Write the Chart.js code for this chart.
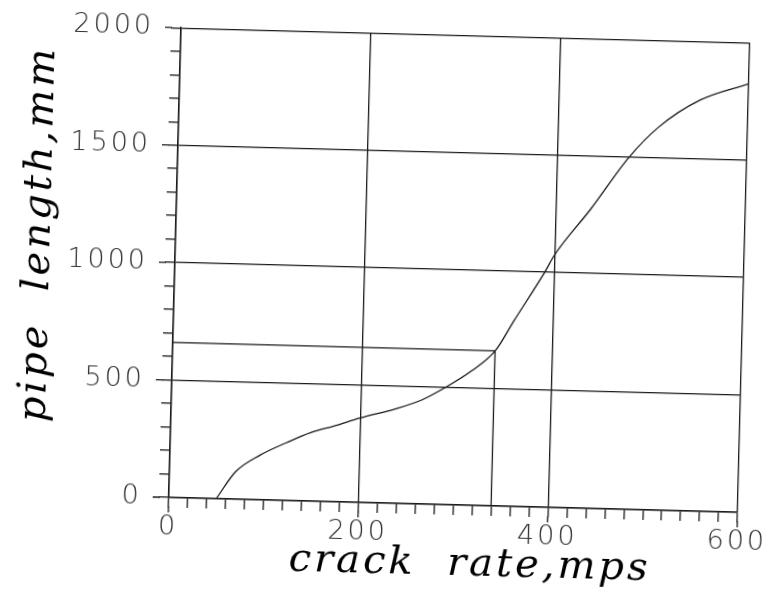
<!DOCTYPE html>
<html>
<head>
<meta charset="utf-8">
<script src="https://cdn.jsdelivr.net/npm/chart.js@4"></script>
<style>
  html, body { margin: 0; padding: 0; background: #fff; overflow: hidden; width: 766px; height: 599px; }
  #wrap { width: 790px; height: 599px; transform: rotate(1.5deg); transform-origin: 383px 300px; }
</style>
</head>
<body>
<div id="wrap"><canvas id="myChart"></canvas></div>
<script>
// curve
const crackRate = [50, 70, 95, 123, 148, 172, 200, 237, 265, 289, 315, 340, 359, 390, 400, 437, 476, 506, 549, 600];
const pipeLength = [0, 118, 190, 247, 292, 322, 360, 403, 445, 500, 570, 660, 790, 1000, 1075, 1275, 1500, 1630, 1750, 1825];

// construction lines to the marked point
const markX = [0, 340, 340];
const markY = [660, 660, 0];

const xLabels = [0, 200, 400, 600];
const yLabels = [0, 500, 1000, 1500, 2000];

const xTitle = 'crack  rate,mps';
const yTitle = 'pipe  length,mm';

const ink = '#1a1a1a';
const tickFont = { family: 'DejaVu Sans', size: 27, weight: '200' };
const titleFont = 'italic 40px "DejaVu Serif"';

const toPoints = (xs, ys) => xs.map((x, i) => ({ x: x, y: ys[i] }));

// wider digit spacing like the plotter font
const spacing = {
    id: 'spacing',
    beforeDraw(chart) { chart.ctx.letterSpacing = '3px'; }
};

// longer ticks at the labelled values, and the two axis titles
const decor = {
    id: 'decor',
    afterDraw(chart) {
        const ctx = chart.ctx;
        const xs = chart.scales.x, ys = chart.scales.y;
        const area = chart.chartArea;
        ctx.save();
        ctx.strokeStyle = ink;
        ctx.lineWidth = 1.3;
        ctx.beginPath();
        xLabels.forEach(v => {
            const px = xs.getPixelForValue(v);
            ctx.moveTo(px, xs.top + 9);
            ctx.lineTo(px, xs.top + 15);
        });
        yLabels.forEach(v => {
            const py = ys.getPixelForValue(v);
            ctx.moveTo(ys.right - 9, py);
            ctx.lineTo(ys.right - 16, py);
        });
        ctx.stroke();

        ctx.fillStyle = '#000';
        ctx.font = titleFont;
        ctx.letterSpacing = '3px';
        ctx.textAlign = 'center';
        ctx.textBaseline = 'alphabetic';
        ctx.fillText(xTitle, (area.left + area.right) / 2 + 18, 573);

        ctx.translate(48, (area.top + area.bottom) / 2 - 25);
        ctx.rotate(-Math.PI / 2);
        ctx.fillText(yTitle, 0, 0);
        ctx.restore();
    }
};

const data = {
    datasets: [{
        data: toPoints(crackRate, pipeLength),
        borderColor: ink,
        borderWidth: 1.3,
        pointRadius: 0,
        showLine: true,
        cubicInterpolationMode: 'monotone'
    }, {
        data: toPoints(markX, markY),
        borderColor: ink,
        borderWidth: 1.3,
        pointRadius: 0,
        showLine: true,
        tension: 0
    }]
};

const config = {
    type: 'scatter',
    data: data,
    plugins: [spacing, decor],
    options: {
        responsive: true,
        maintainAspectRatio: false,
        animation: false,
        layout: { padding: { top: 30, right: 47, bottom: 0, left: 0 } },
        plugins: { legend: { display: false }, tooltip: { enabled: false } },
        scales: {
            x: {
                type: 'linear',
                min: 0,
                max: 600,
                afterFit: s => { s.height = 96; s.paddingRight = 0; s.paddingLeft = 0; },
                border: { color: ink, width: 1.5 },
                grid: {
                    color: c => (c.tick && c.tick.value % 200 === 0) ? ink : 'rgba(0,0,0,0)',
                    tickColor: ink,
                    tickLength: 10,
                    lineWidth: 1.3
                },
                ticks: {
                    stepSize: 20,
                    autoSkip: false,
                    maxRotation: 0,
                    minRotation: 0,
                    padding: 4,
                    color: '#333',
                    font: tickFont,
                    callback: v => xLabels.includes(v) ? String(v) : ''
                }
            },
            y: {
                type: 'linear',
                min: 0,
                max: 2000,
                afterFit: s => { s.width = 174; },
                border: { color: ink, width: 1.5 },
                grid: {
                    color: c => (c.tick && c.tick.value % 500 === 0) ? ink : 'rgba(0,0,0,0)',
                    tickColor: ink,
                    tickLength: 10,
                    lineWidth: 1.3
                },
                ticks: {
                    stepSize: 100,
                    autoSkip: false,
                    padding: 17,
                    color: '#333',
                    font: tickFont,
                    callback: v => yLabels.includes(v) ? String(v) : ''
                }
            }
        }
    }
};

const myChart = new Chart(document.getElementById('myChart'), config);
</script>
</body>
</html>
